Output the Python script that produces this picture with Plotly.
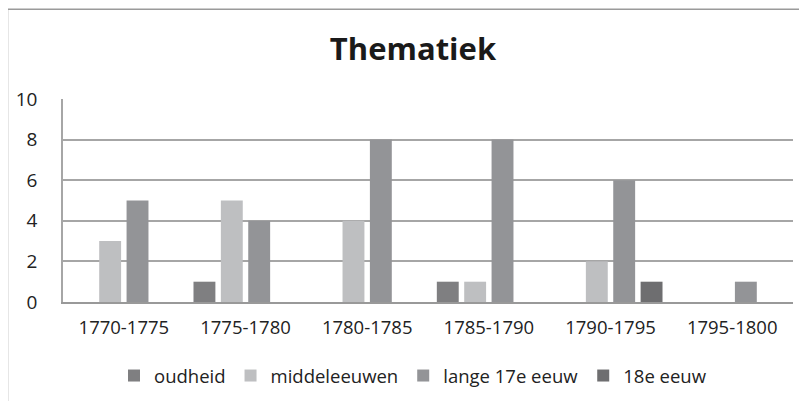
import plotly.graph_objects as go

categories = ["1770-1775", "1775-1780", "1780-1785", "1785-1790", "1790-1795", "1795-1800"]
series_names = ["oudheid", "middeleeuwen", "lange 17e eeuw", "18e eeuw"]
oudheid = [0, 1, 0, 1, 0, 0]
middeleeuwen = [3, 5, 4, 1, 2, 0]
lange_17e_eeuw = [5, 4, 8, 8, 6, 1]
achttiende_eeuw = [0, 0, 0, 0, 1, 0]
y_ticks = [0, 2, 4, 6, 8, 10]

colors = ["#7f7f81", "#bebfc1", "#939497", "#6e6e70"]
values = [oudheid, middeleeuwen, lange_17e_eeuw, achttiende_eeuw]

W, H = 807, 401
D = 8  # page body offset
L, R, T, B = 63 - D, 793 - D, 99 - D, 302 - D

fig = go.Figure()
for name, vals, col in zip(series_names, values, colors):
    fig.add_trace(go.Bar(x=categories, y=vals, name=name, marker=dict(color=col, line=dict(width=0))))

font = "Open Sans, Lato, sans-serif"
pw, ph = R - L, B - T
fig.update_layout(
    width=W, height=H,
    margin=dict(l=L, r=W - R, t=T, b=H - B, pad=0, autoexpand=False),
    paper_bgcolor="white", plot_bgcolor="white",
    barmode="group", bargap=0.1, bargroupgap=0.2,
    title=dict(text="<b>Thematiek</b>", x=(413 - D) / W, xanchor="center", y=1 - (49 - D) / H, yanchor="middle",
               font=dict(family=font, size=31, color="#1a1a1a")),
    font=dict(family=font, size=18.5, color="#222222"),
    showlegend=True,
    legend=dict(orientation="h", x=(413 - D - L) / pw, xanchor="center", y=(B - (376 - D)) / ph, yanchor="middle",
                font=dict(size=18.5), itemwidth=30, traceorder="normal"),
    xaxis=dict(showgrid=False, showline=True, linecolor="#999999", linewidth=1.5, ticks="",
               tickfont=dict(size=18.5), ticklabelstandoff=8, automargin=False),
    yaxis=dict(range=[0, 10], tickvals=y_ticks, showgrid=True, gridcolor="#a6a6a6", gridwidth=1.5,
               showline=True, linecolor="#a6a6a6", linewidth=1.5, ticks="", zeroline=False,
               tickfont=dict(size=19), ticklabelstandoff=20, automargin=False),
    shapes=[dict(type="rect", xref="paper", yref="paper",
                 x0=(7 - D + 0.5 - L) / pw, x1=(830 - L) / pw, y0=(B - 430) / ph, y1=(B - (9 - D) - 0.2) / ph,
                 line=dict(color="#9a9a9a", width=1.5), fillcolor="rgba(0,0,0,0)", layer="below")],
)

fig.write_html("out.html")
